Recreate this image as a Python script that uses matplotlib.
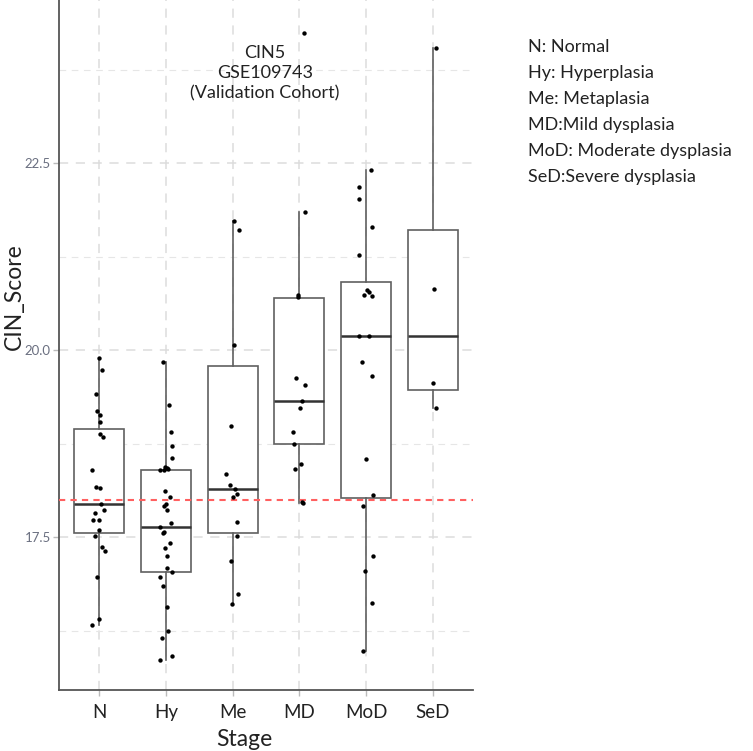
import matplotlib
matplotlib.use('Agg')
import matplotlib.pyplot as plt
from matplotlib.ticker import MultipleLocator

plt.rcParams['font.family'] = ['Lato', 'DejaVu Sans']

# Stage categories
stages = ['N', 'Hy', 'Me', 'MD', 'MoD', 'SeD']

# Box stats: lower whisker, Q1, median, Q3, upper whisker
whis_lo = [16.32, 15.85, 16.61, 17.96, 15.98, 19.22]
q1 = [17.55, 17.03, 17.56, 18.74, 18.02, 19.47]
med = [17.94, 17.64, 18.14, 19.32, 20.19, 20.19]
q3 = [18.95, 18.40, 19.79, 20.69, 20.91, 21.61]
whis_hi = [19.90, 19.84, 21.72, 21.84, 22.41, 24.04]

# Jittered points (score, x offset)
pts_N = [19.90, 19.73, 19.41, 19.19, 19.13, 19.04, 18.88, 18.84, 18.39, 18.17, 18.16, 17.94,
         17.86, 17.82, 17.73, 17.73, 17.59, 17.52, 17.37, 17.32, 16.97, 16.41, 16.32]
jit_N = [0, .05, -.05, -.035, .01, .015, .015, .065, -.10, -.05, .015, .03,
         .08, -.065, -.085, 0, 0, -.065, .05, .095, -.035, 0, -.11]
pts_Hy = [19.84, 19.26, 18.91, 18.72, 18.56, 18.43, 18.42, 18.41, 18.40, 18.39, 18.11, 18.04,
          17.94, 17.91, 17.86, 17.69, 17.64, 17.57, 17.55, 17.42, 17.35, 17.25, 17.09, 17.03,
          16.96, 16.84, 16.56, 16.24, 16.15, 15.91, 15.85]
jit_Hy = [-.045, .05, .07, .085, .085, -.015, .01, .025, -.09, -.03, -.015, .06,
          0, -.03, .01, .07, -.09, -.03, -.05, .06, -.015, .02, .02, .085,
          -.09, -.04, .02, .035, -.06, .085, -.09]
pts_Me = [21.72, 21.60, 20.07, 18.98, 18.34, 18.20, 18.14, 18.08, 18.04, 17.70, 17.52, 17.18, 16.74, 16.61]
jit_Me = [.02, .09, .025, -.02, -.1, -.035, .04, .07, .01, .06, .06, -.02, .075, -.005]
pts_MD = [24.24, 21.84, 20.74, 20.71, 19.63, 19.53, 19.32, 19.22, 18.91, 18.75, 18.47, 18.41, 17.97, 17.96]
jit_MD = [.075, .09, -.015, -.015, -.05, .09, .045, .01, -.1, -.085, .025, -.07, .035, .05]
pts_MoD = [22.41, 22.18, 22.02, 21.64, 21.27, 20.80, 20.78, 20.74, 20.72, 20.19, 20.19, 19.84,
           19.65, 18.54, 18.06, 17.91, 17.24, 17.05, 16.62, 15.98]
jit_MoD = [.065, -.1, -.1, .08, -.1, .01, .045, -.03, .08, -.1, .045, -.065,
           .08, 0, .095, -.045, .095, -.02, .08, -.045]
pts_SeD = [24.04, 20.81, 19.56, 19.22]
jit_SeD = [.05, .015, 0, .05]

cutoff = 18.0
legend_lines = ['N: Normal', 'Hy: Hyperplasia', 'Me: Metaplasia', 'MD:Mild dysplasia',
                'MoD: Moderate dysplasia', 'SeD:Severe dysplasia']

fig = plt.figure(figsize=(7.53, 7.51), dpi=100)
ax = fig.add_axes([59/753, 61/751, 414/753, 690/751])

# grid
ax.yaxis.set_major_locator(MultipleLocator(2.5))
ax.yaxis.set_minor_locator(MultipleLocator(1.25))
ax.grid(True, which='major', axis='both', color='#dcdcdc', linestyle=(0, (6, 5)), linewidth=1.1, zorder=0)
ax.grid(True, which='minor', axis='y', color='#e6e6e6', linestyle=(0, (6, 5)), linewidth=0.8, zorder=0)

stats = []
for i in range(len(stages)):
    stats.append({'whislo': whis_lo[i], 'q1': q1[i], 'med': med[i], 'q3': q3[i],
                  'whishi': whis_hi[i], 'fliers': []})
pos = list(range(1, len(stages) + 1))
ax.bxp(stats, positions=pos, widths=0.75, showfliers=False, showcaps=False, patch_artist=True,
       boxprops=dict(facecolor='white', edgecolor='#606060', linewidth=1.2),
       medianprops=dict(color='#333333', linewidth=1.8),
       whiskerprops=dict(color='#606060', linewidth=1.2), zorder=2)

ax.axhline(cutoff, color='#ff6060', linestyle=(0, (3, 2.5)), linewidth=1.5, zorder=3)

groups = [(pts_N, jit_N), (pts_Hy, jit_Hy), (pts_Me, jit_Me), (pts_MD, jit_MD),
          (pts_MoD, jit_MoD), (pts_SeD, jit_SeD)]
for i, (vals, jit) in enumerate(groups):
    xs = [pos[i] + j for j in jit]
    ax.scatter(xs, vals, s=10, color='black', zorder=4, linewidths=0)

ax.set_xlim(0.4, 6.6)
ax.set_ylim(15.455, 24.68)
ax.set_xticks(pos)
ax.set_xticklabels(stages, fontsize=13.5, color='#222222')
ax.set_yticks([17.5, 20.0, 22.5])
ax.set_yticklabels(['17.5', '20.0', '22.5'], fontsize=9.5, color='#6a6f80')
ax.tick_params(axis='both', which='major', length=4, color='#bbbbbb', width=1)
ax.tick_params(axis='y', which='major', pad=2)
ax.tick_params(axis='y', which='minor', length=0)
ax.tick_params(axis='x', pad=6)
for s in ['top', 'right']:
    ax.spines[s].set_visible(False)
for s in ['left', 'bottom']:
    ax.spines[s].set_color('#555555')
    ax.spines[s].set_linewidth(1.3)

ax.set_xlabel('Stage', fontsize=16.5, color='#222222')
ax.xaxis.set_label_coords((244 - 59) / 414, (690 - 740) / 690)
ax.xaxis.label.set_va('center')
ax.set_ylabel('CIN_Score', fontsize=16.5, color='#222222')
ax.yaxis.set_label_coords((14 - 59) / 414, (690 - 297) / 690)
ax.yaxis.label.set_va('center')

fig.text(265/753, 1 - 73/751, 'CIN5\nGSE109743\n(Validation Cohort)', ha='center', va='center',
         fontsize=13, color='#222222', linespacing=1.3)

for k, line in enumerate(legend_lines):
    fig.text(528/753, 1 - (47 + 26 * k)/751, line, ha='left', va='center', fontsize=13, color='#222222')

fig.savefig('out.png', dpi=100)
